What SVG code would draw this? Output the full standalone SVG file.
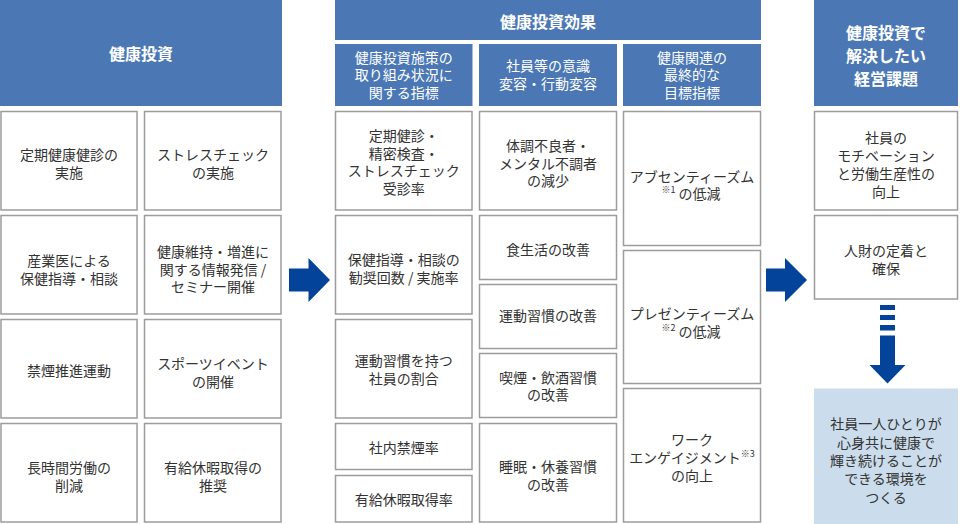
<svg xmlns="http://www.w3.org/2000/svg" width="960" height="524" viewBox="0 0 960 524">
<style>
.hd{fill:#4b78b5}
.bx{fill:#ffffff;stroke:#9c9c9c;stroke-width:1.5}
.goal{fill:#cbddec}
text{font-family:"Noto Sans CJK JP","Noto Sans",sans-serif;text-anchor:middle;dominant-baseline:central}
.ht{fill:#ffffff;font-size:16px;font-weight:bold}
.st{fill:#ffffff;font-size:14px}
.t{fill:#333333;font-size:14px}
.sup{font-size:9px}
.ar{fill:#04439a}
</style>
<rect width="960" height="524" fill="#ffffff"/>

<!-- Left column: 健康投資 -->
<g id="h-invest">
<rect class="hd" x="0" y="0" width="282" height="106"/>
<text class="ht" x="141" y="53">健康投資</text>
</g>
<g id="l1"><rect class="bx" x="1" y="111.5" width="136" height="98.5"/>
<text class="t" x="69" y="154">定期健康健診の</text><text class="t" x="69" y="172.3">実施</text></g>
<g id="l2"><rect class="bx" x="144.5" y="111.5" width="136.5" height="98.5"/>
<text class="t" x="213" y="154">ストレスチェック</text><text class="t" x="213" y="172.3">の実施</text></g>
<g id="l3"><rect class="bx" x="1" y="215.5" width="136" height="98.5"/>
<text class="t" x="69" y="260">産業医による</text><text class="t" x="69" y="278.3">保健指導・相談</text></g>
<g id="l4"><rect class="bx" x="144.5" y="215.5" width="136.5" height="98.5"/>
<text class="t" x="213" y="250.7">健康維持・増進に</text><text class="t" x="213" y="268.5">関する情報発信 /</text><text class="t" x="213" y="286.3">セミナー開催</text></g>
<g id="l5"><rect class="bx" x="1" y="319.5" width="136" height="98.5"/>
<text class="t" x="69" y="370">禁煙推進運動</text></g>
<g id="l6"><rect class="bx" x="144.5" y="319.5" width="136.5" height="98.5"/>
<text class="t" x="213" y="363.3">スポーツイベント</text><text class="t" x="213" y="381.3">の開催</text></g>
<g id="l7"><rect class="bx" x="1" y="423.5" width="136" height="98.5"/>
<text class="t" x="69" y="466.7">長時間労働の</text><text class="t" x="69" y="485">削減</text></g>
<g id="l8"><rect class="bx" x="144.5" y="423.5" width="136.5" height="98.5"/>
<text class="t" x="213" y="466.7">有給休暇取得の</text><text class="t" x="213" y="485">推奨</text></g>

<!-- Middle: 健康投資効果 -->
<g id="h-effect">
<rect class="hd" x="335" y="0" width="426" height="40"/>
<text class="ht" x="548" y="20.5">健康投資効果</text>
</g>
<g id="h-a">
<rect class="hd" x="335" y="44" width="137.5" height="62"/>
<text class="st" x="403.75" y="56.7">健康投資施策の</text><text class="st" x="403.75" y="74.3">取り組み状況に</text><text class="st" x="403.75" y="92">関する指標</text>
</g>
<g id="h-b">
<rect class="hd" x="479" y="44" width="138" height="62"/>
<text class="st" x="548" y="65">社員等の意識</text><text class="st" x="548" y="82.7">変容・行動変容</text>
</g>
<g id="h-c">
<rect class="hd" x="623" y="44" width="138" height="62"/>
<text class="st" x="692" y="56.7">健康関連の</text><text class="st" x="692" y="74.3">最終的な</text><text class="st" x="692" y="92">目標指標</text>
</g>

<g id="a1"><rect class="bx" x="335.5" y="111.5" width="136.5" height="98.5"/>
<text class="t" x="403.75" y="135">定期健診・</text><text class="t" x="403.75" y="152.6">精密検査・</text><text class="t" x="403.75" y="170.2">ストレスチェック</text><text class="t" x="403.75" y="187.8">受診率</text></g>
<g id="a2"><rect class="bx" x="335.5" y="215.5" width="136.5" height="98.5"/>
<text class="t" x="403.75" y="259.3">保健指導・相談の</text><text class="t" x="403.75" y="276.9">勧奨回数 / 実施率</text></g>
<g id="a3"><rect class="bx" x="335.5" y="319.5" width="136.5" height="98.5"/>
<text class="t" x="403.75" y="360">運動習慣を持つ</text><text class="t" x="403.75" y="377.6">社員の割合</text></g>
<g id="a4"><rect class="bx" x="335.5" y="423.5" width="136.5" height="46"/>
<text class="t" x="403.75" y="446.7">社内禁煙率</text></g>
<g id="a5"><rect class="bx" x="335.5" y="475.5" width="136.5" height="46.5"/>
<text class="t" x="403.75" y="498.5">有給休暇取得率</text></g>

<g id="b1"><rect class="bx" x="479.5" y="111.5" width="137" height="98.5"/>
<text class="t" x="548" y="145">体調不良者・</text><text class="t" x="548" y="162.6">メンタル不調者</text><text class="t" x="548" y="180.2">の減少</text></g>
<g id="b2"><rect class="bx" x="479.5" y="215.5" width="137" height="64"/>
<text class="t" x="548" y="249.3">食生活の改善</text></g>
<g id="b3"><rect class="bx" x="479.5" y="284.5" width="137" height="64"/>
<text class="t" x="548" y="315">運動習慣の改善</text></g>
<g id="b4"><rect class="bx" x="479.5" y="353.5" width="137" height="64"/>
<text class="t" x="548" y="376.7">喫煙・飲酒習慣</text><text class="t" x="548" y="394.3">の改善</text></g>
<g id="b5"><rect class="bx" x="479.5" y="423.5" width="137" height="98.5"/>
<text class="t" x="548" y="466">睡眠・休養習慣</text><text class="t" x="548" y="484">の改善</text></g>

<g id="c1"><rect class="bx" x="623.5" y="111.5" width="137" height="134"/>
<text class="t" x="692" y="175.7">アブセンティーズム</text>
<text class="t" x="691" y="193.3"><tspan class="sup" dy="-4">※1</tspan><tspan dy="4"> の低減</tspan></text></g>
<g id="c2"><rect class="bx" x="623.5" y="250.5" width="137" height="133"/>
<text class="t" x="692" y="313.3">プレゼンティーズム</text>
<text class="t" x="691" y="330.7"><tspan class="sup" dy="-4">※2</tspan><tspan dy="4"> の低減</tspan></text></g>
<g id="c3"><rect class="bx" x="623.5" y="388.5" width="137" height="133.5"/>
<text class="t" x="692" y="439.3">ワーク</text>
<text class="t" x="692" y="456.7">エンゲイジメント<tspan class="sup" dy="-4">※3</tspan></text>
<text class="t" x="692" y="475">の向上</text></g>

<!-- Right column -->
<g id="h-issue">
<rect class="hd" x="814" y="0" width="144" height="106"/>
<text class="ht" x="886" y="31.7">健康投資で</text><text class="ht" x="886" y="55">解決したい</text><text class="ht" x="886" y="78.3">経営課題</text>
</g>
<g id="r1"><rect class="bx" x="814.5" y="111.5" width="143" height="98.5"/>
<text class="t" x="886" y="136.7">社員の</text><text class="t" x="886" y="154.7">モチベーション</text><text class="t" x="886" y="172.7">と労働生産性の</text><text class="t" x="886" y="190.7">向上</text></g>
<g id="r2"><rect class="bx" x="814.5" y="215.5" width="143" height="83.5"/>
<text class="t" x="886" y="250">人財の定着と</text><text class="t" x="886" y="268.3">確保</text></g>
<g id="goal"><rect class="goal" x="814" y="388.5" width="144" height="135.5"/>
<text class="t" x="886" y="423.3">社員一人ひとりが</text><text class="t" x="886" y="441.7">心身共に健康で</text><text class="t" x="886" y="460">輝き続けることが</text><text class="t" x="886" y="478.3">できる環境を</text><text class="t" x="886" y="496.7">つくる</text></g>

<!-- Connectors -->
<g id="connectors">
<polygon class="ar" points="289,268.5 308.5,268.5 308.5,258 330,280 308.5,302 308.5,291.5 289,291.5"/>
<polygon class="ar" points="766,268.5 785,268.5 785,258 807,280 785,302 785,291.5 766,291.5"/>
<rect class="ar" x="880" y="305" width="15" height="5"/>
<rect class="ar" x="880" y="315" width="15" height="5"/>
<rect class="ar" x="880" y="325" width="15" height="5.5"/>
<rect class="ar" x="880" y="335.5" width="15" height="30"/>
<polygon class="ar" points="869.5,365 905.5,365 887.5,383.5"/>
</g>
</svg>
